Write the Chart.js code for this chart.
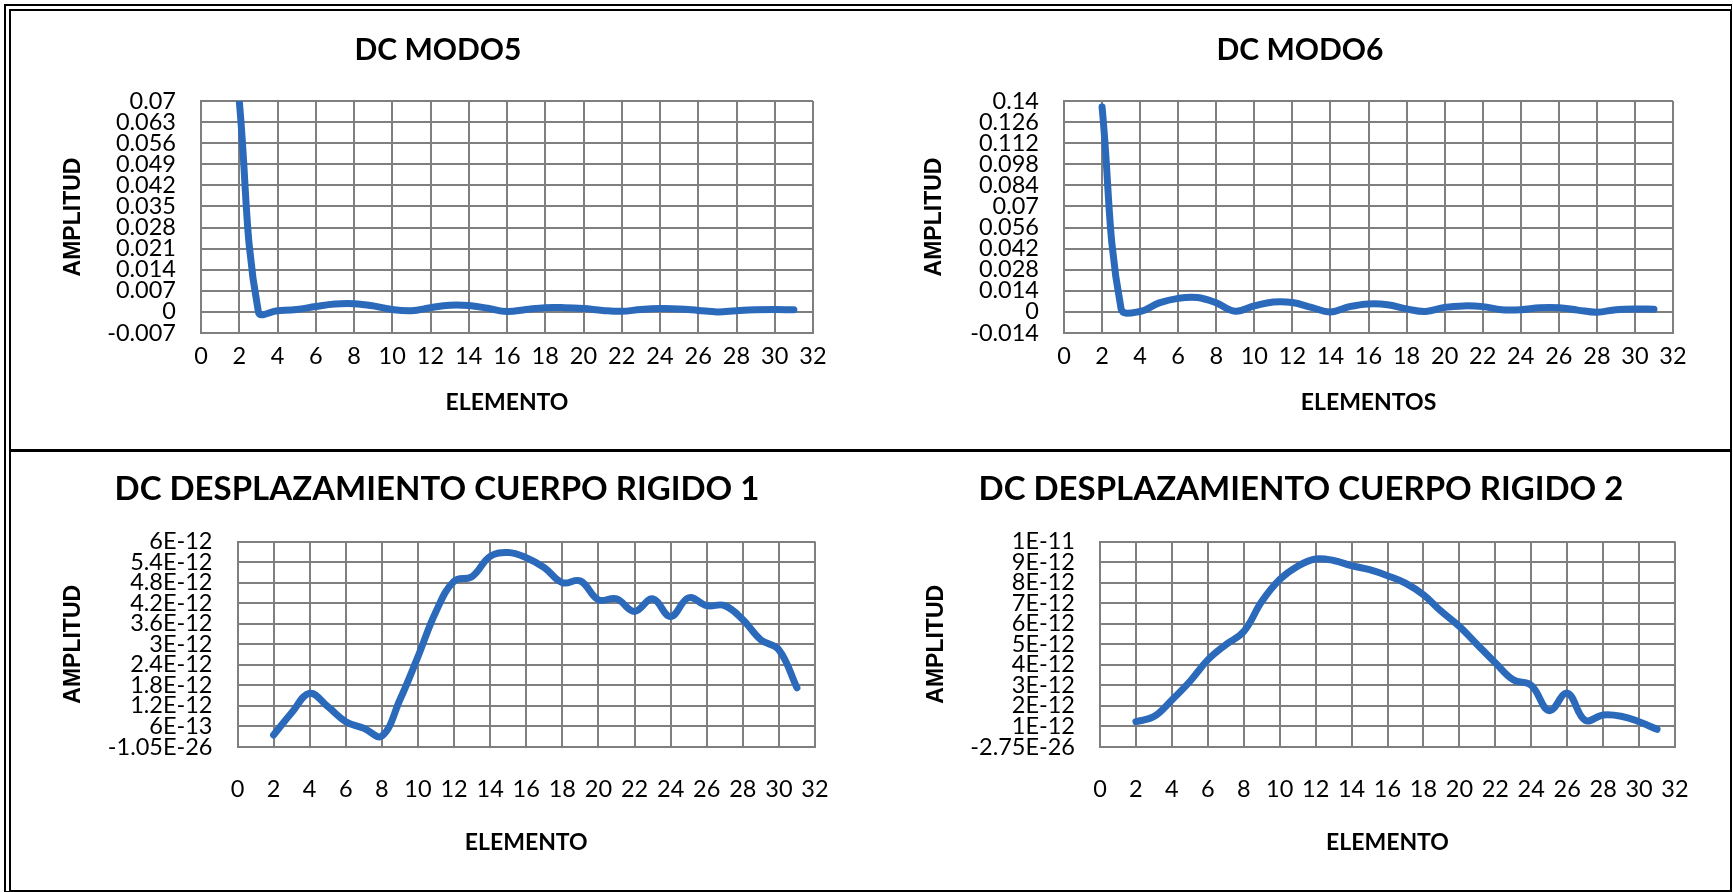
<!DOCTYPE html>
<html lang="es">
<head>
  <meta charset="UTF-8">
  <title>DC modos y desplazamientos de cuerpo rígido</title>
  <script src="https://cdn.jsdelivr.net/npm/chart.js"></script>
  <style>
    html, body {
      margin: 0;
      padding: 0;
      background: #fff;
      width: 1733px;
      height: 892px;
      overflow: hidden;
    }
    .marco {
      position: absolute;
      left: 4px;
      top: 4px;
      width: 1719px;
      height: 879px;
      border-left: 7px double #000;
      border-top: 7px double #000;
      border-right: 2px solid #000;
      border-bottom: 2px solid #000;
    }
    .divisor {
      position: absolute;
      left: 9px;
      top: 449px;
      width: 1722px;
      height: 3px;
      background: #000;
    }
    canvas {
      position: absolute;
    }
  </style>
</head>
<body>

  <div class="marco"></div>
  <div class="divisor"></div>

  <canvas id="modo5" width="854" height="436" style="left:12px;top:12px"></canvas>
  <canvas id="modo6" width="857" height="436" style="left:870px;top:12px"></canvas>
  <canvas id="rigido1" width="854" height="435" style="left:12px;top:452px"></canvas>
  <canvas id="rigido2" width="857" height="435" style="left:870px;top:452px"></canvas>

  <script>
    // elementos 2..31
    const elementos = [2, 3, 4, 5, 6, 7, 8, 9, 10, 11, 12, 13, 14, 15, 16, 17, 18, 19, 20, 21, 22, 23, 24, 25, 26, 27, 28, 29, 30, 31];

    const modo5 = [0.07, 0.0, 0.0004, 0.0008, 0.0018, 0.0026, 0.0027, 0.002, 0.0008, 0.0004,
      0.0014, 0.0022, 0.0021, 0.0012, 0.0001, 0.0008, 0.0014, 0.0014, 0.0011, 0.0005,
      0.0002, 0.0008, 0.0011, 0.001, 0.0005, 0.0, 0.0004, 0.0007, 0.0008, 0.0007];

    const modo6 = [0.136, 0.002, 0.0003, 0.006, 0.009, 0.0095, 0.006, 0.0005, 0.004, 0.0066,
      0.0062, 0.003, 0.0, 0.0035, 0.0053, 0.0048, 0.002, 0.0003, 0.003, 0.004,
      0.0035, 0.0015, 0.0015, 0.0028, 0.0028, 0.0012, -0.0002, 0.0015, 0.002, 0.0018];

    const rigido1 = [3.5e-13, 1.0e-12, 1.57e-12, 1.18e-12, 7.4e-13, 5.5e-13, 3.2e-13, 1.38e-12, 2.64e-12, 3.96e-12,
      4.84e-12, 4.98e-12, 5.57e-12, 5.68e-12, 5.53e-12, 5.24e-12, 4.8e-12, 4.85e-12, 4.3e-12, 4.33e-12,
      3.96e-12, 4.33e-12, 3.81e-12, 4.36e-12, 4.13e-12, 4.13e-12, 3.72e-12, 3.13e-12, 2.84e-12, 1.73e-12];

    const rigido2 = [1.23e-12, 1.48e-12, 2.29e-12, 3.19e-12, 4.24e-12, 4.98e-12, 5.62e-12, 7.08e-12, 8.15e-12, 8.8e-12,
      9.15e-12, 9.08e-12, 8.83e-12, 8.63e-12, 8.34e-12, 7.98e-12, 7.41e-12, 6.6e-12, 5.87e-12, 4.98e-12,
      4.1e-12, 3.27e-12, 3.0e-12, 1.77e-12, 2.62e-12, 1.3e-12, 1.56e-12, 1.5e-12, 1.23e-12, 0.86e-12];

    // marcas del eje x
    const xTicks = [0, 2, 4, 6, 8, 10, 12, 14, 16, 18, 20, 22, 24, 26, 28, 30, 32];

    // marcas del eje y
    const yTicks5 = [-0.007, 0, 0.007, 0.014, 0.021, 0.028, 0.035, 0.042, 0.049, 0.056, 0.063, 0.07];
    const yLabels5 = ['-0.007', '0', '0.007', '0.014', '0.021', '0.028', '0.035', '0.042', '0.049', '0.056', '0.063', '0.07'];

    const yTicks6 = [-0.014, 0, 0.014, 0.028, 0.042, 0.056, 0.07, 0.084, 0.098, 0.112, 0.126, 0.14];
    const yLabels6 = ['-0.014', '0', '0.014', '0.028', '0.042', '0.056', '0.07', '0.084', '0.098', '0.112', '0.126', '0.14'];

    const yTicksR1 = [-1.05e-26, 6e-13, 1.2e-12, 1.8e-12, 2.4e-12, 3e-12, 3.6e-12, 4.2e-12, 4.8e-12, 5.4e-12, 6e-12];
    const yLabelsR1 = ['-1.05E-26', '6E-13', '1.2E-12', '1.8E-12', '2.4E-12', '3E-12', '3.6E-12', '4.2E-12', '4.8E-12', '5.4E-12', '6E-12'];

    const yTicksR2 = [-2.75e-26, 1e-12, 2e-12, 3e-12, 4e-12, 5e-12, 6e-12, 7e-12, 8e-12, 9e-12, 1e-11];
    const yLabelsR2 = ['-2.75E-26', '1E-12', '2E-12', '3E-12', '4E-12', '5E-12', '6E-12', '7E-12', '8E-12', '9E-12', '1E-11'];

    const AZUL = '#2b69ba';
    const GRIS = '#7f7f7f';

    function grafica(id, titulo, tituloX, valores, yTicks, yLabels, g) {
      const ctx = document.getElementById(id).getContext('2d');
      return new Chart(ctx, {
        type: 'line',
        data: {
          datasets: [{
            data: elementos.map((x, i) => ({ x: x, y: valores[i] })),
            borderColor: AZUL,
            borderWidth: 7,
            borderCapStyle: 'round',
            borderJoinStyle: 'round',
            tension: 0.4,
            pointRadius: 0,
            fill: false
          }]
        },
        options: {
          responsive: false,
          animation: false,
          devicePixelRatio: 1,
          layout: { padding: { left: g.pl, right: g.pr, top: 0, bottom: 0 } },
          plugins: {
            legend: { display: false },
            tooltip: { enabled: false },
            title: {
              display: true,
              text: titulo,
              color: '#000',
              font: { family: 'Lato', size: g.ts, weight: 'bold', lineHeight: 1.2 },
              padding: { top: g.tt, bottom: g.tb }
            }
          },
          scales: {
            x: {
              type: 'linear',
              min: 0,
              max: 32,
              afterBuildTicks: s => { s.ticks = xTicks.map(v => ({ value: v })); },
              afterFit: s => { s.height = g.xh; },
              ticks: {
                autoSkip: false,
                maxRotation: 0,
                padding: g.xp,
                color: '#000',
                font: { family: 'Lato', size: 23.5, lineHeight: 1.2 }
              },
              grid: { color: GRIS, lineWidth: 2, drawTicks: false },
              border: { color: GRIS, width: 2 },
              title: {
                display: true,
                text: tituloX,
                color: '#000',
                font: { family: 'Lato', size: 23, weight: 'bold', lineHeight: 1.2 },
                padding: { top: 0, bottom: g.tx }
              }
            },
            y: {
              min: yTicks[0],
              max: yTicks[yTicks.length - 1],
              afterBuildTicks: s => { s.ticks = yTicks.map(v => ({ value: v })); },
              afterFit: s => { s.width = g.yw; },
              ticks: {
                autoSkip: false,
                padding: 25,
                color: '#000',
                font: { family: 'Lato', size: 23.5, lineHeight: 1 },
                callback: (v, i) => yLabels[i]
              },
              grid: { color: GRIS, lineWidth: 2, drawTicks: false },
              border: { color: GRIS, width: 2 },
              title: {
                display: true,
                text: 'AMPLITUD',
                color: '#000',
                font: { family: 'Liberation Sans', size: 23, weight: 'bold', lineHeight: 1 },
                padding: { top: g.ty, bottom: 0 }
              }
            }
          }
        }
      });
    }

    grafica('modo5', 'DC MODO5', 'ELEMENTO', modo5, yTicks5, yLabels5,
      { pl: 51, pr: 53, yw: 138, ty: -1, ts: 30, tt: 20, tb: 33, xh: 115, xp: 9, tx: 32 });
    grafica('modo6', 'DC MODO6', 'ELEMENTOS', modo6, yTicks6, yLabels6,
      { pl: 57, pr: 54, yw: 137, ty: -3.5, ts: 30, tt: 20, tb: 33, xh: 115, xp: 9, tx: 32 });
    grafica('rigido1', 'DC DESPLAZAMIENTO CUERPO RIGIDO 1', 'ELEMENTO', rigido1, yTicksR1, yLabelsR1,
      { pl: 47, pr: 51, yw: 178.5, ty: 3.5, ts: 33, tt: 18, tb: 32, xh: 140, xp: 28, tx: 31 });
    grafica('rigido2', 'DC DESPLAZAMIENTO CUERPO RIGIDO 2', 'ELEMENTO', rigido2, yTicksR2, yLabelsR2,
      { pl: 57, pr: 52, yw: 173, ty: -1.5, ts: 33, tt: 18, tb: 32, xh: 140, xp: 28, tx: 31 });
  </script>

</body>
</html>
